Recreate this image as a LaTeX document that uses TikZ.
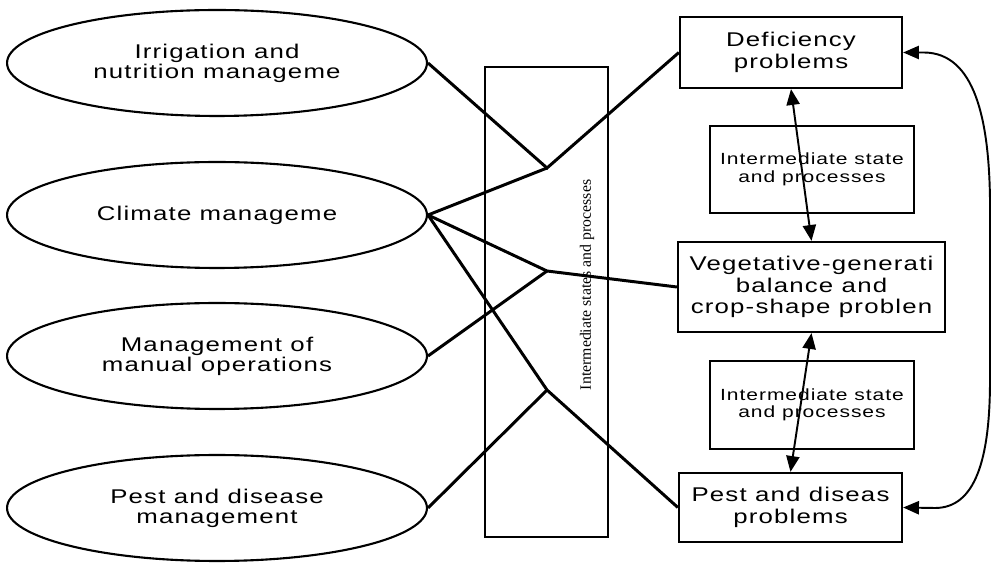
\documentclass[tikz,border=0pt]{standalone}
\usepackage{fontspec}
\setmainfont{Liberation Sans}[FakeStretch=1.3,LetterSpace=6]
\newfontfamily\serifsmall{Liberation Serif}
\usetikzlibrary{shapes.geometric}
\usetikzlibrary{arrows.meta}
\usetikzlibrary{positioning}

\tikzset{
  mgmt/.style={draw,ellipse,line width=1.2pt,minimum width=8.4cm,minimum height=2.12cm,
    inner sep=0pt,align=center,font=\fontsize{11.3}{11.5}\selectfont},
  probbox/.style={draw,rectangle,line width=1.3pt,inner sep=0pt,align=center,
    font=\fontsize{11.3}{12.3}\selectfont},
  interbox/.style={draw,rectangle,line width=1.3pt,minimum width=4.08cm,minimum height=1.75cm,
    inner sep=0pt,align=center,font=\fontsize{9.2}{10}\selectfont},
  link/.style={line width=1.7pt},
  both/.style={line width=1.1pt,{Triangle[length=9pt,width=7.5pt]}-{Triangle[length=9pt,width=7.5pt]}}
}

\begin{document}
\begin{tikzpicture}[x=0.02cm,y=-0.02cm]
\useasboundingbox (0,0) rectangle (991,563);
% management ellipses
\node[mgmt] (irr) at (217,63) {Irrigation and\\nutrition manageme};
\node[mgmt] (clim) at (217,215) {Climate manageme};
\node[mgmt] (manual) at (217,356) {Management of\\manual operations};
\node[mgmt] (pestm) at (217,508) {Pest and disease\\management};
% middle column
\node[draw,line width=1.3pt,minimum width=2.46cm,minimum height=9.4cm,inner sep=0pt] (states) at (546.5,302) {};
\node[rotate=90,font=\serifsmall\fontsize{9}{10}\selectfont] (statestxt) at (587,285) {Intermediate states and processes};
\coordinate (j1) at (547,168);
\coordinate (j2) at (547,271);
\coordinate (j3) at (547,390);
% problem boxes
\node[probbox,minimum width=4.44cm,minimum height=1.42cm] (defic) at (791,52.5) {Deficiency\\problems};
\node[interbox] (inter1) at (812,169.5) {Intermediate state\\and processes};
\node[probbox,minimum width=5.34cm,minimum height=1.8cm] (veg) at (811.5,287) {Vegetative-generati\\balance and\\crop-shape problen};
\node[interbox] (inter2) at (812,405) {Intermediate state\\and processes};
\node[probbox,minimum width=4.46cm,minimum height=1.38cm] (pestp) at (790.5,507.5) {Pest and diseas\\problems};
% connectors
\draw[link] (irr.east) -- (j1) -- (defic.west);
\draw[link] (clim.east) -- (j1);
\draw[link] (clim.east) -- (j2) -- (veg.west);
\draw[link] (manual.east) -- (j2);
\draw[link] (clim.east) -- (j3) -- (pestp.west);
\draw[link] (pestm.east) -- (j3);
\draw[both] (defic.south) -- (veg.north);
\draw[both] (veg.south) -- (pestp.north);
\draw[both] (defic.east) -- ++(21,0) .. controls (975,53) and (989,120) .. (990,200) -- (990,380) .. controls (990,460) and (975,508) .. (935,508) -- (pestp.east);
\end{tikzpicture}
\end{document}
